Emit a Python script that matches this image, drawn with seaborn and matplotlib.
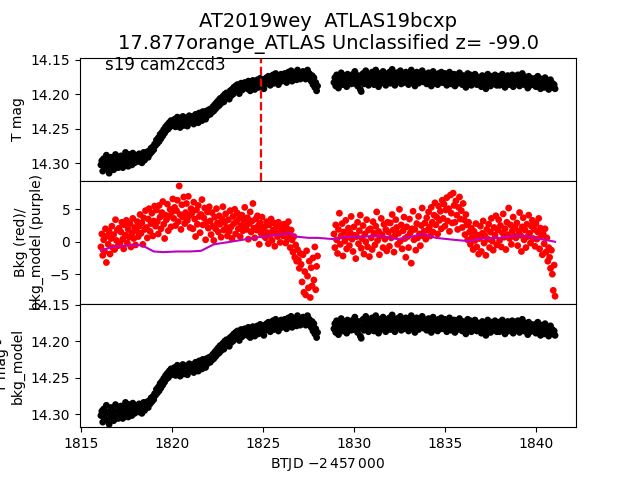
import numpy as np
import pandas as pd
import matplotlib
matplotlib.use("Agg")
import matplotlib.pyplot as plt
import seaborn as sns

# ---- time sampling (two TESS orbits, 0.05 d cadence) ----
seg1_start, seg1_stop = 1816.10, 1828.00
seg2_start, seg2_stop = 1828.90, 1841.05
cadence = 0.05

# ---- T mag, given as mmag above 14.000 ----
mag1_mmag = [
    302, 296, 311, 293, 305, 299, 288, 308, 297, 314, 300, 291, 304, 295, 309, 298, 287, 303, 296, 306,
    292, 301, 289, 298, 306, 290, 296, 284, 300, 293, 304, 287, 297, 291, 302, 285, 295, 299, 288, 296,
    290, 297, 286, 294, 289, 299, 291, 284, 295, 288, 290, 283, 291, 282, 286, 278, 283, 276, 280, 272,
    274, 266, 271, 263, 268, 258, 264, 255, 260, 251, 256, 247, 252, 244, 250, 241, 247, 238, 245, 240,
    243, 236, 247, 239, 233, 244, 238, 248, 235, 241, 232, 245, 237, 242, 234, 246, 238, 231, 240, 236,
    239, 232, 243, 235, 229, 238, 233, 241, 227, 236, 230, 238, 225, 233, 229, 236, 224, 231, 227, 222,
    229, 221, 226, 218, 224, 215, 221, 212, 218, 209, 216, 206, 213, 208, 203, 211, 200, 207, 198, 204,
    199, 207, 195, 202, 193, 200, 190, 197, 188, 195, 186, 193, 199, 189, 184, 194, 187, 191, 183, 189,
    185, 192, 181, 188, 195, 184, 190, 180, 187, 193, 182, 186, 179, 190, 184, 177, 188, 181, 185, 192,
    178, 185, 176, 183, 174, 181, 187, 175, 180, 172, 184, 177, 170, 182, 176, 186, 173, 179, 171, 181,
    174, 180, 170, 177, 183, 172, 168, 178, 174, 166, 181, 175, 169, 177, 172, 179, 165, 174, 170, 178,
    171, 176, 167, 174, 169, 178, 172, 165, 175, 170, 177, 181, 173, 186, 176, 190, 183, 195, 188,
]
mag2_mmag = [
    183, 176, 188, 172, 180, 191, 175, 184, 169, 179, 186, 173, 181, 177, 189, 171, 183, 178, 174, 185,
    178, 171, 184, 167, 180, 175, 188, 173, 182, 193, 196, 179, 170, 185, 176, 166, 181, 174, 187, 177,
    172, 183, 168, 179, 186, 174, 165, 181, 177, 189, 170, 178, 184, 173, 167, 180, 176, 187, 171, 182,
    175, 168, 184, 178, 164, 180, 172, 187, 176, 169, 182, 174, 179, 166, 185, 177, 171, 183, 175, 168,
    180, 174, 186, 170, 178, 165, 183, 176, 172, 188, 179, 168, 175, 184, 171, 180, 177, 166, 182, 174,
    178, 171, 185, 176, 169, 183, 174, 188, 180, 167, 177, 184, 172, 179, 186, 170, 181, 175, 168, 183,
    176, 183, 170, 179, 187, 173, 181, 168, 177, 185, 174, 180, 171, 188, 178, 172, 184, 176, 169, 182,
    179, 186, 173, 181, 175, 190, 177, 170, 184, 178, 172, 187, 180, 174, 183, 171, 179, 186, 175, 181,
    184, 177, 189, 173, 181, 186, 175, 192, 180, 171, 183, 178, 188, 174, 182, 176, 185, 172, 179, 187,
    181, 174, 187, 178, 183, 171, 185, 179, 190, 176, 182, 173, 186, 180, 177, 184, 172, 189, 179, 183,
    178, 185, 172, 181, 188, 176, 183, 170, 180, 186, 175, 184, 179, 191, 174, 182, 187, 177, 185, 180,
    183, 177, 189, 181, 174, 186, 180, 192, 178, 185, 182, 190, 176, 184, 188, 181, 193, 185, 179, 189,
    184, 190, 186, 192,
]

# ---- background flux ----
bkg1 = [
    -0.8, 1.2, -2.1, 0.3, -1.5, 2.0, -3.2, 0.9, -0.4, 1.6, -1.9, 0.5, 2.4, -0.9, 1.1, -1.2, 3.4, 0.2, 1.8, -0.6,
    2.1, -0.3, 1.5, 3.0, 0.4, -1.1, 2.6, 1.0, 3.3, -0.2, 1.9, 0.7, 2.8, -0.8, 1.3, 3.6, 0.5, 2.2, -0.5, 1.7,
    3.1, 0.8, 2.4, 4.2, 1.3, 2.9, -0.4, 3.7, 1.9, 4.8, 2.2, 0.6, 3.5, 5.1, 1.6, 2.8, 4.4, 0.9, 3.2, 5.5,
    2.4, 4.9, 3.1, 1.2, 5.6, 3.8, 2.0, 4.5, 6.2, 2.7, 0.5, 4.1, 3.4, 5.8, 1.7, 3.9, 5.0, 2.3, 4.6, 6.6,
    3.6, 5.3, 2.5, 4.8, 6.4, 3.1, 8.6, 4.2, 1.9, 5.7, 3.8, 6.9, 2.8, 4.5, 5.9, 3.3, 7.0, 4.0, 2.2, 5.1,
    4.4, 2.0, 6.1, 3.5, 0.8, 4.9, 2.7, 5.6, 3.9, 1.4, 4.2, 6.5, 2.6, 3.7, 5.2, 0.3, 3.0, 4.6, 2.1, 5.4,
    3.2, 1.1, 4.5, 2.4, 0.2, 3.8, 2.0, 5.1, 2.9, 1.5, 4.0, 2.7, 0.7, 3.5, 5.4, 1.8, 3.0, 4.3, 2.2, 0.9,
    3.4, 1.6, 4.8, 2.3, 0.5, 3.9, 2.8, 5.0, 1.2, 3.1, 4.4, 2.0, 3.6, 0.8, 2.5, 4.1, 1.7, 3.3, 5.3, 2.4,
    1.9, 3.7, 0.4, 2.8, 4.6, 1.5, 3.2, 5.9, 2.1, 0.6, 3.5, 1.8, 4.0, 2.5, -0.4, 2.9, 1.3, 3.8, 2.0, 0.9,
    2.3, 0.6, 3.1, 1.4, -0.3, 2.6, 1.0, 3.5, 0.2, 1.8, 2.9, -0.7, 1.5, 2.4, 0.8, 3.0, 1.2, -0.1, 2.1, 1.6,
    0.9, 2.7, 1.5, -0.2, 2.2, 0.4, 3.1, 1.1, -0.9, 1.8, 0.3, -1.6, 0.8, -2.4, -0.5, -3.0, -1.2, -2.8, -4.1, -1.8,
    -3.5, -6.2, -2.0, -7.8, -4.6, -8.2, -1.4, -5.3, -7.1, -3.0, -8.6, -4.0, -6.8, -2.5, -5.9, -0.8, -7.4, -3.8, -2.2,
]
bkg2 = [
    1.2, -0.9, 2.6, 0.3, -1.8, 1.9, 4.4, -0.4, 0.9, 2.8, -2.2, 1.5, 0.1, 3.3, -1.1, 0.7, 2.1, -0.6, 1.4, 3.9,
    0.4, -1.5, 2.3, 1.0, -2.6, 0.8, 3.0, -0.3, 1.7, 4.1, -1.0, 0.5, 2.5, -1.9, 1.2, 0.0, 3.4, -0.8, 1.8, -2.3,
    2.0, 0.6, -1.2, 3.1, 1.3, -0.5, 2.4, 4.6, 0.2, 1.6, -2.0, 0.9, 3.6, 1.1, -0.9, 2.7, 0.4, 1.9, -1.4, 3.0,
    1.5, -0.7, 2.9, 0.6, 4.2, 1.8, -1.6, 0.9, 3.4, 2.2, -0.4, 1.3, 5.0, 0.1, 2.6, -1.1, 1.7, 3.8, 0.5, -2.4,
    2.3, 0.8, -0.9, 3.5, 1.4, -3.3, 2.0, 4.7, 0.3, 1.9, -1.3, 2.8, 0.6, 3.9, 1.2, -0.6, 2.5, 5.2, 0.9, 1.6,
    2.9, 0.4, 3.7, 1.8, 4.6, 2.3, 0.9, 5.3, 3.0, 1.5, 4.1, 6.0, 2.6, 3.8, 1.2, 5.5, 3.3, 4.7, 2.0, 6.4,
    3.6, 5.8, 2.4, 4.9, 6.8, 3.2, 5.1, 1.6, 7.2, 4.4, 2.9, 7.5, 5.6, 3.0, 6.3, 4.1, 1.9, 5.3, 6.9, 3.5,
    4.8, 2.2, 5.9, 3.4, 1.1, 4.2, 2.6, 0.3, 3.0, 1.5, -0.4, 2.1, 0.7, -1.2, 1.6, 0.2, 2.8, -0.8, 1.0, -1.9,
    0.5, 2.4, -1.5, 1.3, 3.2, -0.2, 0.9, -2.1, 1.9, 0.4, 2.7, -0.9, 1.5, 3.6, 0.1, -1.3, 2.2, 1.0, 4.0, -0.5,
    1.8, 3.4, 0.2, 2.5, -0.8, 1.4, 4.3, 0.7, 2.0, -1.2, 3.0, 1.1, 5.2, 0.5, 2.6, -0.4, 1.7, 3.8, 0.9, 2.2,
    0.6, 2.9, -0.6, 1.6, 4.5, 1.0, -1.5, 2.3, 3.7, 0.3, 1.8, -0.9, 2.7, 0.8, 4.1, 1.3, -0.2, 2.4, 3.3, 0.5,
    1.9, -0.7, 2.8, 0.4, 1.5, 3.6, -1.1, 2.1, 0.9, -2.0, 1.2, -0.3, 2.0, -1.6, 0.6, -3.0, -0.9, -2.4, -4.1, -1.3,
    -5.0, -7.5, -3.6, -8.4,
]

# ---- background model (purple curve) ----
model_t = [1816.1, 1816.7, 1817.5, 1818.3, 1818.6, 1819.0, 1819.5, 1820.3, 1821.0, 1821.6,
           1822.3, 1823.0, 1824.1, 1825.0, 1825.9, 1826.5, 1826.8, 1827.5, 1828.0, 1828.9,
           1829.5, 1830.5, 1831.5, 1832.4, 1833.0, 1833.8, 1834.5, 1835.5, 1836.3, 1837.0,
           1838.0, 1838.8, 1839.5, 1840.0, 1840.5, 1841.05]
model_v = [-1.4, -0.8, -0.6, -0.5, -0.9, -1.5, -1.6, -1.5, -1.5, -1.4,
           -0.4, -0.1, 0.4, 0.8, 1.1, 1.3, 0.8, 0.6, 0.6, 0.4,
           0.7, 0.8, 0.9, 0.4, 0.7, 1.2, 0.6, 0.3, 0.1, 0.5,
           0.6, 0.9, 0.9, 0.5, 0.3, 0.0]

event_t = 1824.9
title_text = "AT2019wey  ATLAS19bcxp\n17.877orange_ATLAS Unclassified z= -99.0"
ccd_text = "s19 cam2ccd3"

# ---- assemble ----
t1 = np.round(np.arange(len(mag1_mmag)) * cadence + seg1_start, 3)
t2 = np.round(np.arange(len(mag2_mmag)) * cadence + seg2_start, 3)
df = pd.DataFrame({
    "t": np.concatenate([t1, t2]),
    "mag": 14.0 + np.array(mag1_mmag + mag2_mmag) / 1000.0,
    "bkg": np.array(bkg1 + bkg2),
})
df["mag_corr"] = df["mag"]
dm = pd.DataFrame({"t": model_t, "v": model_v})

plt.rcParams["font.family"] = ["DejaVu Sans"]
fig, axes = plt.subplots(3, 1, sharex=True, figsize=(6.4, 4.8), dpi=100)
fig.subplots_adjust(left=0.125, right=0.9, top=0.88, bottom=0.11, hspace=0)
ax1, ax2, ax3 = axes

ms = 24
sns.scatterplot(data=df, x="t", y="mag", ax=ax1, color="k", s=ms, edgecolor="none", legend=False)
ax1.axvline(event_t, color="r", ls="--", lw=1.6)
ax1.set_ylim(14.325, 14.147)
ax1.set_yticks([14.15, 14.20, 14.25, 14.30])
ax1.set_ylabel("T mag")
ax1.text(0.05, 0.9, ccd_text, transform=ax1.transAxes, fontsize=12)
ax1.set_title(title_text, fontsize=14)

sns.scatterplot(data=df, x="t", y="bkg", ax=ax2, color="r", s=ms, edgecolor="none", legend=False)
sns.lineplot(data=dm, x="t", y="v", ax=ax2, color="m", lw=1.5)
ax2.set_ylim(-9.6, 9.4)
ax2.set_yticks([-5, 0, 5])
ax2.set_ylabel("Bkg (red)/\nbkg_model (purple)")

sns.scatterplot(data=df, x="t", y="mag_corr", ax=ax3, color="k", s=ms, edgecolor="none", legend=False)
ax3.set_ylim(14.318, 14.149)
ax3.set_yticks([14.15, 14.20, 14.25, 14.30])
ax3.set_ylabel("T mag -\nbkg_model")
ax3.set_xlim(1814.95, 1842.2)
ax3.set_xticks([1815, 1820, 1825, 1830, 1835, 1840])
ax3.set_xlabel(r"BTJD $-2\,457\,000$")

for ax in (ax1, ax2):
    ax.tick_params(axis="x", bottom=False, labelbottom=False)
    ax.set_xlabel("")

fig.savefig("out.png", dpi=100)
